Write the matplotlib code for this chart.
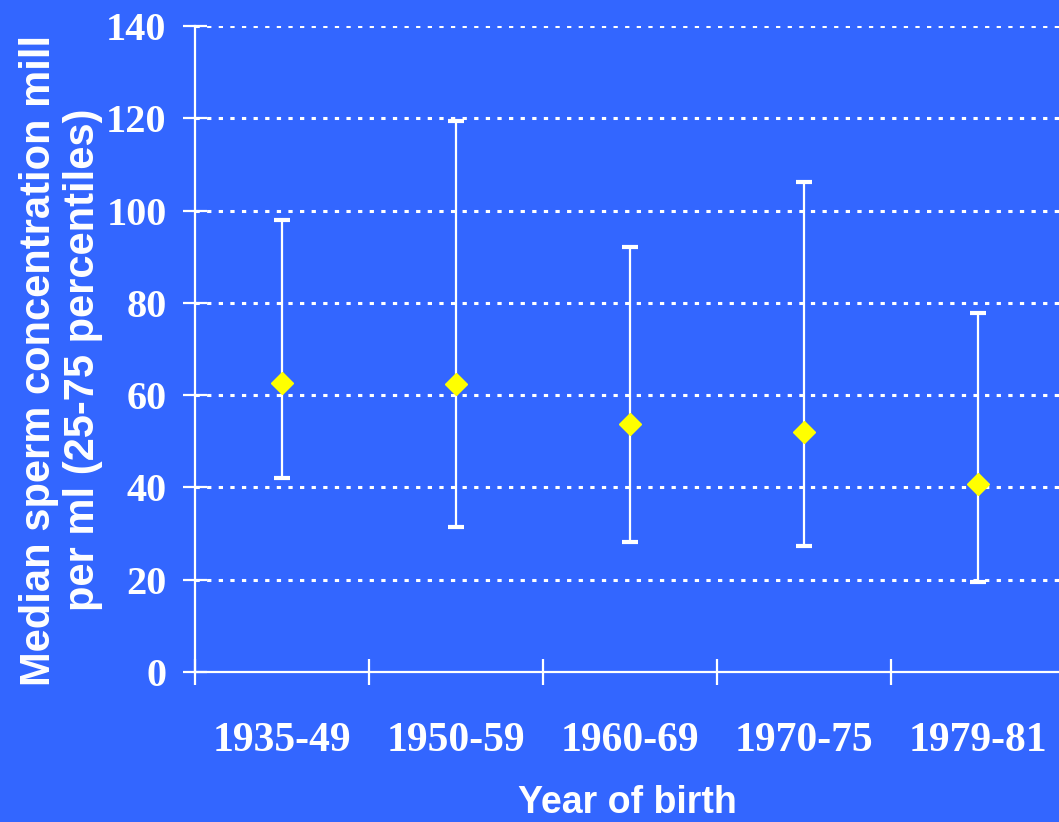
import matplotlib
matplotlib.use("Agg")
import matplotlib.pyplot as plt
import numpy as np

# Data
categories = ["1935-49", "1950-59", "1960-69", "1970-75", "1979-81"]
median = [62.7, 62.4, 53.8, 52.1, 40.8]
p25 = [42.0, 31.4, 28.2, 27.3, 19.5]
p75 = [98.0, 119.4, 92.0, 106.3, 77.9]
y_ticks = [0, 20, 40, 60, 80, 100, 120, 140]

BG = "#3366FF"
WHITE = "white"

fig = plt.figure(figsize=(10.59, 8.22), dpi=100)
fig.patch.set_facecolor(BG)
ax = fig.add_axes([195/1059, 1-672/822, 870/1059, 646/822])
ax.set_facecolor(BG)

x = np.arange(len(categories))
med = np.array(median)
lo = med - np.array(p25)
hi = np.array(p75) - med

ax.set_ylim(0, 140)
ax.set_xlim(-0.5, len(categories) - 0.5)

# grid
for yv in y_ticks[1:]:
    ax.axhline(yv, color=WHITE, lw=2.2, linestyle=(0, (1.4, 2.4)), zorder=1)

ax.errorbar(x, med, yerr=[lo, hi], fmt='none', ecolor=WHITE, elinewidth=1.6,
            capsize=5.8, capthick=3, zorder=3)
ax.plot(x, med, linestyle='none', marker='D', markersize=11.5,
        markerfacecolor='#FFFF00', markeredgecolor='#FFFF00', zorder=4)

for s in ["top", "right"]:
    ax.spines[s].set_visible(False)
for s in ["left", "bottom"]:
    ax.spines[s].set_color(WHITE)
    ax.spines[s].set_linewidth(1.6)

ax.set_yticks(y_ticks)
ax.set_yticklabels([str(v) for v in y_ticks])
ax.tick_params(axis='y', which='major', direction='inout', length=17, width=1.6,
               color=WHITE, labelcolor=WHITE, pad=12)
for lab in ax.get_yticklabels():
    lab.set_fontfamily("Liberation Serif")
    lab.set_fontweight("bold")
    lab.set_fontsize(29)

# category boundaries as major ticks, labels on minor ticks
ax.set_xticks(np.arange(len(categories) + 1) - 0.5)
ax.set_xticklabels([])
ax.set_xticks(x, minor=True)
ax.set_xticklabels(categories, minor=True)
ax.tick_params(axis='x', which='major', direction='inout', length=19, width=1.6,
               color=WHITE)
ax.tick_params(axis='x', which='minor', length=0, labelcolor=WHITE, pad=36)
for lab in ax.get_xticklabels(minor=True):
    lab.set_fontfamily("Liberation Serif")
    lab.set_fontweight("bold")
    lab.set_fontsize(30)

fig.text(627/1059, 1-803/822, "Year of birth", color=WHITE, fontsize=27,
         fontweight='bold', family="Liberation Sans", ha='center', va='center')
fig.text(61/1059, 1-360/822, "Median sperm concentration mill\nper ml (25-75 percentiles)",
         color=WHITE, fontsize=30, fontweight='bold', family="Liberation Sans",
         rotation=90, ha='center', va='center', multialignment='center',
         linespacing=1.12)

fig.savefig("out.png", dpi=100, facecolor=BG)
